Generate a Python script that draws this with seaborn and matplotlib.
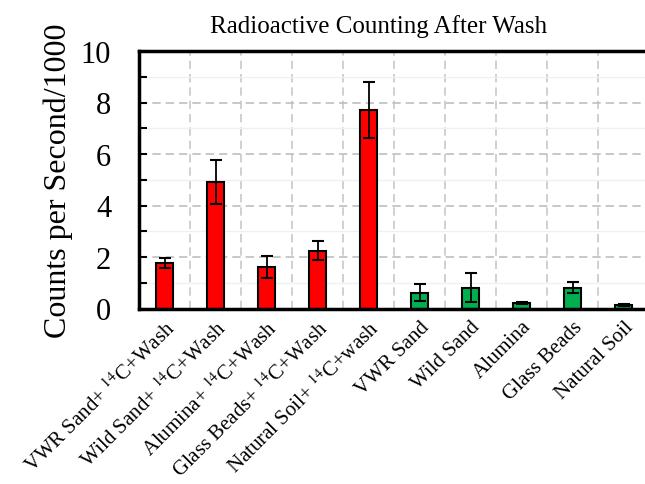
import numpy as np
import pandas as pd
import matplotlib
matplotlib.use("Agg")
import matplotlib.pyplot as plt
from matplotlib.ticker import MultipleLocator, FixedLocator
import seaborn as sns

sns.set_style("white")
plt.rcParams["font.family"] = ["Liberation Serif", "DejaVu Serif"]
plt.rcParams["mathtext.fontset"] = "stix"
plt.rcParams["text.color"] = "black"
plt.rcParams["axes.labelcolor"] = "black"
plt.rcParams["xtick.color"] = "black"
plt.rcParams["ytick.color"] = "black"

labels = [r"VWR Sand+ $^{14}$C+Wash", r"Wild Sand+ $^{14}$C+Wash",
          r"Alumina+ $^{14}$C+Wash", r"Glass Beads+ $^{14}$C+Wash",
          r"Natural Soil+ $^{14}$C+wash",
          "VWR Sand", "Wild Sand", "Alumina", "Glass Beads", "Natural Soil"]
values = [1.77, 4.92, 1.60, 2.25, 7.72, 0.61, 0.81, 0.22, 0.81, 0.14]
errors = [0.20, 0.85, 0.42, 0.37, 1.08, 0.33, 0.57, 0.05, 0.20, 0.04]
groups = ["wash"] * 5 + ["control"] * 5
colors = {"wash": "#ff0000", "control": "#00b050"}

df = pd.DataFrame({"sample": labels, "cps": values, "err": errors, "group": groups})

fig = plt.figure(figsize=(6.45, 4.85), dpi=100)
ax = fig.add_axes([139 / 645, 1 - 309.5 / 485, 510 / 645, 257.5 / 485])

# light minor grid and dashed major grid
ax.set_axisbelow(True)
ax.yaxis.set_major_locator(MultipleLocator(2))
ax.yaxis.set_minor_locator(MultipleLocator(1))
ax.xaxis.set_minor_locator(FixedLocator(np.arange(0.5, 9.5, 1)))
ax.grid(axis="y", which="major", color="#bfbfbf", linestyle=(0, (5, 3)), linewidth=1.2)
ax.grid(axis="y", which="minor", color="#f0f0f0", linestyle="-", linewidth=1)
ax.grid(axis="x", which="minor", color="#c8c8c8", linestyle=(0, (5, 3)), linewidth=1.2)

sns.barplot(data=df, x="sample", y="cps", hue="group", palette=colors,
            dodge=False, width=0.33, edgecolor="black", linewidth=1.5,
            saturation=1, legend=False, ax=ax)
ax.errorbar(x=np.arange(len(values)), y=values, yerr=errors, fmt="none",
            ecolor="black", elinewidth=1.3, capsize=4, capthick=1.5)

ax.set_xlim(-0.5, 9.5)
ax.set_ylim(0, 10)

ax.set_title("Radioactive Counting After Wash", fontsize=18, pad=14, x=0.47)
ax.set_xlabel("")
ax.set_ylabel("Counts per Second/1000", fontsize=23, labelpad=6)

ax.tick_params(axis="y", which="major", direction="in", length=6, width=1.5,
               labelsize=22, left=True, pad=20)
ax.tick_params(axis="y", which="minor", direction="in", length=6, width=1.5, left=True)
ax.tick_params(axis="x", which="both", length=0, labelsize=15, pad=6)
for lab in ax.get_xticklabels():
    lab.set_rotation(45)
    lab.set_ha("right")
    lab.set_rotation_mode("anchor")

for side in ["left", "bottom", "top"]:
    ax.spines[side].set_linewidth(2.5)
    ax.spines[side].set_color("black")
ax.spines["right"].set_visible(False)

fig.savefig("out.png", dpi=100)
